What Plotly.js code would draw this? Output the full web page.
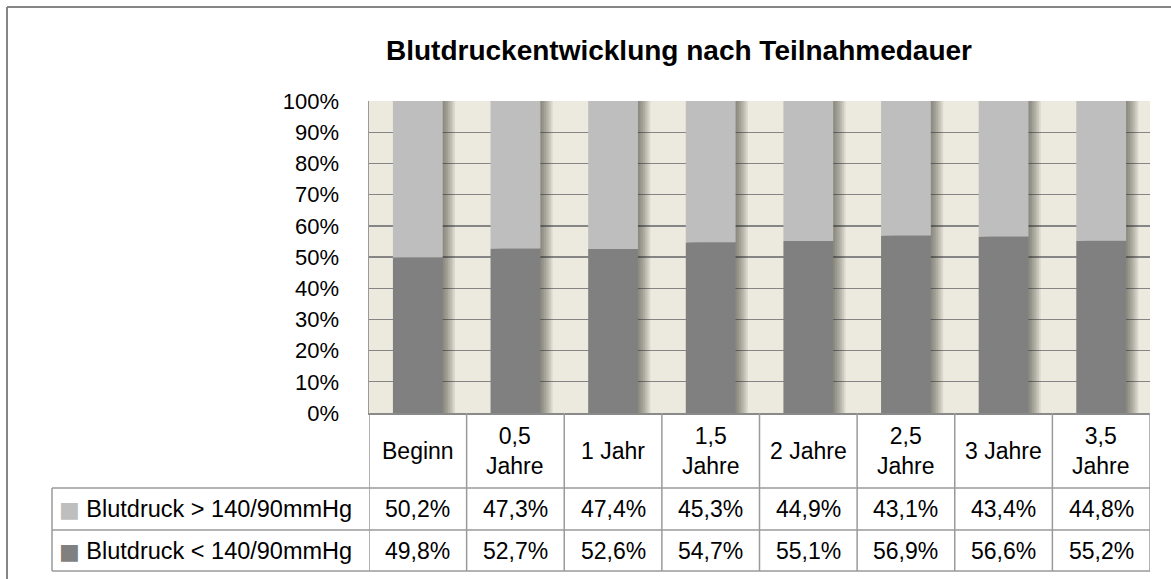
<!DOCTYPE html>
<html>
<head>
<meta charset="utf-8">
<script src="https://cdn.plot.ly/plotly-3.0.1.min.js"></script>
<style>html,body{margin:0;padding:0;background:#fff;}#chart{width:1171px;height:579px;}</style>
</head>
<body>
<div id="chart"></div>
<script>
// ---- data ----
const categories = ['Beginn','0,5 Jahre','1 Jahr','1,5 Jahre','2 Jahre','2,5 Jahre','3 Jahre','3,5 Jahre'];
const categoryLabels = ['Beginn','0,5<br>Jahre','1 Jahr','1,5<br>Jahre','2 Jahre','2,5<br>Jahre','3 Jahre','3,5<br>Jahre'];
const seriesHighName = 'Blutdruck &gt; 140/90mmHg';
const seriesLowName = 'Blutdruck &lt; 140/90mmHg';
const highValues = [50.2, 47.3, 47.4, 45.3, 44.9, 43.1, 43.4, 44.8];
const lowValues  = [49.8, 52.7, 52.6, 54.7, 55.1, 56.9, 56.6, 55.2];
const yTickValues = [0,10,20,30,40,50,60,70,80,90,100];

// ---- style ----
const FONT = 'Liberation Sans, Arial, sans-serif';
const colLow = '#808080', colHigh = '#BEBEBE';
const lineCol = '#9a9a9a';
const W = 1171, H = 579;
const M = {l: 369, r: 21, t: 101, b: 166};
const plotW = W - M.l - M.r, plotH = H - M.t - M.b;
const py = p => (H - M.b - p) / plotH;      // pixel y -> paper y
const px = p => (p - M.l) / plotW;          // pixel x -> paper x
const barW = 0.51;

const totals = lowValues.map((v, i) => v + highValues[i]);
const fmt = v => v.toFixed(1).replace('.', ',') + '%';

const traces = [];
// soft shadow to the right of the bars
const nShadow = 7;
for (let k = 1; k <= nShadow; k++) {
  traces.push({
    type: 'bar', x: categories, y: totals, base: 0,
    width: barW, offset: -barW / 2 + k * 0.018,
    marker: {color: 'rgba(40,40,30,0.09)', line: {width: 0}},
    hoverinfo: 'skip', showlegend: false
  });
}
traces.push({
  type: 'bar', name: seriesLowName, x: categories, y: lowValues, base: 0,
  width: barW, marker: {color: colLow, line: {width: 0}}, showlegend: false
});
traces.push({
  type: 'bar', name: seriesHighName, x: categories, y: highValues, base: lowValues,
  width: barW, marker: {color: colHigh, line: {width: 0}}, showlegend: false
});

// table geometry (paper coords)
const yRow1Bot = py(488), yRow2Bot = py(530), yRow3Bot = py(571);
const xLegend = px(52);
const shapes = [];
for (let i = 0; i <= categories.length; i++) {
  shapes.push({type: 'line', xref: 'x', yref: 'paper', x0: i - 0.5, x1: i - 0.5, y0: 0, y1: yRow3Bot,
    line: {color: lineCol, width: 1.5}});
}
[yRow1Bot, yRow2Bot, yRow3Bot].forEach(y => {
  shapes.push({type: 'line', xref: 'paper', yref: 'paper', x0: xLegend, x1: 1, y0: y, y1: y,
    line: {color: lineCol, width: 1.5}});
});
shapes.push({type: 'line', xref: 'paper', yref: 'paper', x0: xLegend, x1: xLegend, y0: yRow1Bot, y1: yRow3Bot,
  line: {color: lineCol, width: 1.5}});
// outer chart frame (left & top visible)
shapes.push({type: 'line', xref: 'paper', yref: 'paper', x0: px(7), x1: px(7), y0: py(7), y1: py(620),
  line: {color: '#868686', width: 2}});
shapes.push({type: 'line', xref: 'paper', yref: 'paper', x0: px(7), x1: px(1200), y0: py(7), y1: py(7),
  line: {color: '#868686', width: 2}});

const annotations = [];
const tableFont = {family: FONT, size: 23, color: '#000'};
const legendFont = {family: FONT, size: 23.5, color: '#000'};
categories.forEach((c, i) => {
  annotations.push({xref: 'x', yref: 'paper', x: i, y: (0 + yRow1Bot) / 2, text: categoryLabels[i],
    showarrow: false, xanchor: 'center', yanchor: 'middle', font: tableFont});
  annotations.push({xref: 'x', yref: 'paper', x: i, y: (yRow1Bot + yRow2Bot) / 2, text: fmt(highValues[i]),
    showarrow: false, xanchor: 'center', yanchor: 'middle', font: tableFont});
  annotations.push({xref: 'x', yref: 'paper', x: i, y: (yRow2Bot + yRow3Bot) / 2, text: fmt(lowValues[i]),
    showarrow: false, xanchor: 'center', yanchor: 'middle', font: tableFont});
});
const keySpan = c => '<span style="color:' + c + ';font-size:22px;font-family:DejaVu Sans">■</span> ';
annotations.push({xref: 'paper', yref: 'paper', x: px(57), y: (yRow1Bot + yRow2Bot) / 2,
  text: keySpan(colHigh) + seriesHighName,
  showarrow: false, xanchor: 'left', yanchor: 'middle', font: legendFont});
annotations.push({xref: 'paper', yref: 'paper', x: px(57), y: (yRow2Bot + yRow3Bot) / 2,
  text: keySpan(colLow) + seriesLowName,
  showarrow: false, xanchor: 'left', yanchor: 'middle', font: legendFont});

const layout = {
  width: W, height: H,
  margin: M,
  paper_bgcolor: '#ffffff',
  plot_bgcolor: '#ECE9DF',
  barmode: 'overlay',
  title: {text: '<b>Blutdruckentwicklung nach Teilnahmedauer</b>', xref: 'container', yref: 'container',
    x: 679 / W, y: 1 - 50 / H, xanchor: 'center', yanchor: 'middle',
    font: {family: FONT, size: 28, color: '#000'}},
  xaxis: {type: 'category', range: [-0.5, categories.length - 0.5], showticklabels: false, ticks: '',
    showgrid: false, zeroline: false, showline: true, linecolor: '#8a8a8a', linewidth: 2, fixedrange: true},
  yaxis: {range: [0, 100], tickvals: yTickValues, ticktext: yTickValues.map(v => v + '%'),
    showgrid: true, gridcolor: '#858585', gridwidth: 1.4, zeroline: false,
    showline: true, linecolor: '#9a9a9a', linewidth: 1.5, ticks: '', ticklabelstandoff: 24,
    tickfont: {family: FONT, size: 22, color: '#000'}, fixedrange: true},
  shapes: shapes,
  annotations: annotations,
  showlegend: false
};

Plotly.newPlot('chart', traces, layout, {displayModeBar: false, staticPlot: true});
</script>
</body>
</html>
